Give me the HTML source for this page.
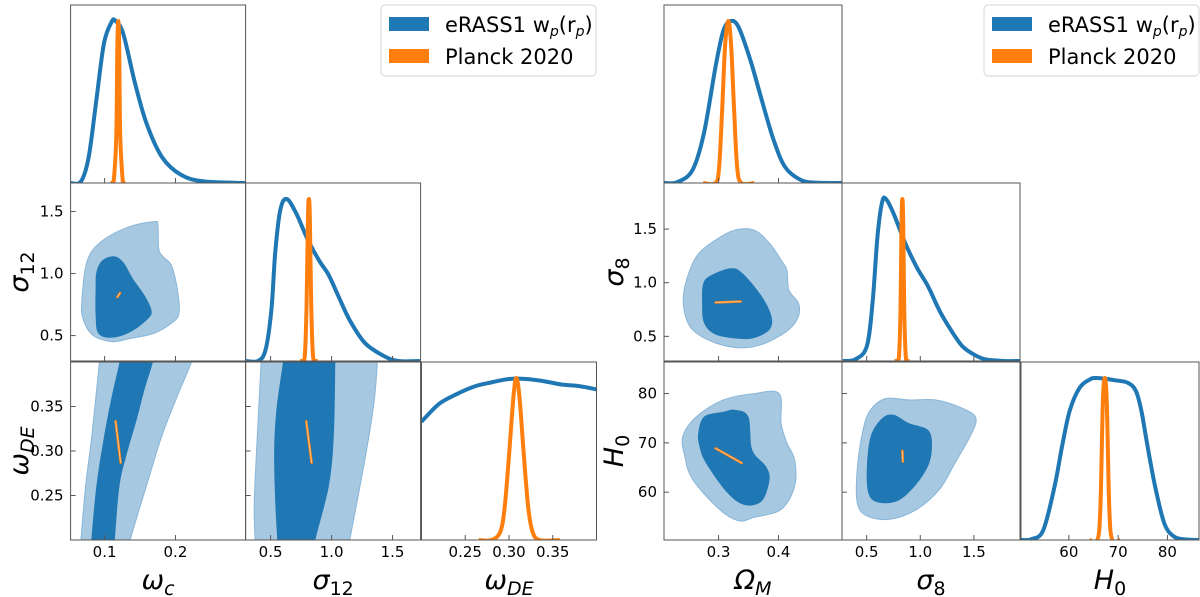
<!DOCTYPE html>
<html><head><meta charset="utf-8">
<style>
html,body{margin:0;padding:0;background:#fff;}
svg{display:block;font-family:"DejaVu Sans","Liberation Sans",sans-serif;}
</style></head>
<body>
<svg id="fig" width="1200" height="597" viewBox="0 0 1200 597" xmlns="http://www.w3.org/2000/svg"></svg>
<script>
// ---------- DATA ----------
const wcRange = [0.052, 0.299];
const s12Range = [0.295, 1.73];
const wdeRange = [0.2, 0.4];
const wcTicks = [0.1, 0.2];
const s12Ticks = [0.5, 1.0, 1.5];
const wdeTicks = [0.25, 0.30, 0.35];

const wcMargX = [0.052,0.0667,0.0775,0.0883,0.099,0.110,0.1155,0.1264,0.1427,0.159,0.181,0.208,0.240,0.299];
const wcMargY = [0,0.01,0.16,0.51,0.86,0.995,1.0,0.92,0.62,0.37,0.16,0.05,0.01,0];
const wcPlanckX = [0.110,0.113,0.1165,0.118,0.1193,0.1206,0.122,0.1255,0.1275];
const wcPlanckY = [0,0.02,0.3,0.85,1,0.85,0.3,0.02,0];

const s12MargX = [0.293,0.397,0.459,0.507,0.538,0.579,0.632,0.711,0.804,0.898,0.977,1.056,1.150,1.275,1.431,1.55,1.724];
const s12MargY = [0,0,0.07,0.32,0.67,0.93,1.0,0.91,0.75,0.62,0.53,0.40,0.25,0.11,0.03,0,0];
const s12PlanckX = [0.752,0.78,0.795,0.806,0.814,0.822,0.833,0.848,0.877];
const s12PlanckY = [0,0.03,0.35,0.88,1,0.88,0.35,0.03,0];

const wdeMargX = [0.2,0.22,0.24,0.26,0.28,0.30,0.32,0.34,0.36,0.38,0.40];
const wdeMargY = [0.73,0.84,0.90,0.947,0.973,0.994,0.994,0.98,0.96,0.95,0.93];
const wdePlanckX = [0.2655,0.28,0.29,0.295,0.30,0.305,0.3083,0.312,0.317,0.322,0.327,0.335,0.358];
const wdePlanckY = [0,0,0.05,0.2,0.52,0.88,1,0.88,0.52,0.2,0.05,0,0];

const wcS12Outer = [[0.0678,0.771],[0.0748,1.091],[0.0938,1.251],[0.1318,1.371],[0.1699,1.419],[0.1753,1.385],[0.1764,1.198],[0.1835,1.131],[0.1943,1.065],[0.2025,0.878],[0.2052,0.691],[0.1970,0.611],[0.1699,0.518],[0.1373,0.478],[0.1101,0.451],[0.0830,0.505],[0.0694,0.638]];
const wcS12Inner = [[0.0884,1.011],[0.0966,1.105],[0.1128,1.139],[0.1264,1.091],[0.1400,0.958],[0.1563,0.825],[0.1661,0.705],[0.1617,0.638],[0.1373,0.531],[0.1101,0.483],[0.0911,0.518],[0.0873,0.665],[0.0873,0.878]];
const wcS12Planck = [[0.1180,0.810],[0.1218,0.843]];

const wcWdeOuter = [[0.0666,0.2003],[0.0732,0.2607],[0.0819,0.3167],[0.0927,0.4],[0.0949,0.4137],[0.2242,0.4137],[0.2226,0.4],[0.2025,0.3615],[0.1807,0.3167],[0.1590,0.2607],[0.1362,0.2003],[0.1346,0.186],[0.065,0.186]];
const wcWdeInner = [[0.0813,0.2003],[0.0884,0.2607],[0.0993,0.3167],[0.1101,0.3615],[0.1210,0.4],[0.122,0.4137],[0.1699,0.4137],[0.1682,0.4],[0.1563,0.369],[0.1454,0.3354],[0.1318,0.2981],[0.1210,0.2607],[0.1145,0.2003],[0.114,0.186],[0.0808,0.186]];
const wcWdePlanck = [[0.1155,0.3335],[0.1226,0.2869]];

const s12WdeOuter = [[0.3722,0.2003],[0.3659,0.2421],[0.3910,0.3167],[0.4224,0.4],[0.425,0.415],[1.38,0.415],[1.3756,0.4],[1.3536,0.3615],[1.3066,0.3167],[1.2282,0.2570],[1.1498,0.2003],[1.14,0.185],[0.372,0.185]];
const s12WdeInner = [[0.5541,0.2003],[0.5384,0.2421],[0.5290,0.2981],[0.5478,0.3465],[0.6011,0.4],[0.605,0.415],[1.032,0.415],[1.0308,0.4],[1.0182,0.3167],[0.9775,0.2607],[0.8677,0.2003],[0.862,0.185],[0.556,0.185]];
const s12WdePlanck = [[0.7923,0.3335],[0.8362,0.2869]];

const omRange = [0.209, 0.506];
const s8Range = [0.27, 1.93];
const h0Range = [50.3, 86.4];
const omTicks = [0.3, 0.4];
const s8Ticks = [0.5, 1.0, 1.5];
const h0Ticks = [60, 70, 80];

const omMargX = [0.209,0.2309,0.2566,0.2758,0.2951,0.3080,0.3208,0.3337,0.3530,0.3723,0.3915,0.4108,0.4365,0.4622,0.506];
const omMargY = [0,0.005,0.08,0.31,0.72,0.94,1.0,0.96,0.76,0.51,0.27,0.10,0.02,0.002,0];
const omPlanckX = [0.2746,0.295,0.301,0.306,0.311,0.3163,0.321,0.326,0.331,0.338,0.3594];
const omPlanckY = [0,0,0.1,0.45,0.85,1,0.85,0.45,0.1,0,0];

const s8MargX = [0.28,0.394,0.501,0.555,0.601,0.644,0.680,0.751,0.858,0.966,1.073,1.180,1.287,1.394,1.501,1.608,1.787,1.93];
const s8MargY = [0,0.01,0.09,0.36,0.77,0.98,1.0,0.91,0.73,0.58,0.46,0.31,0.19,0.09,0.04,0.01,0,0];
const s8PlanckX = [0.77,0.80,0.815,0.825,0.833,0.841,0.851,0.866,0.89];
const s8PlanckY = [0,0.02,0.3,0.85,1,0.85,0.3,0.02,0];

const h0MargX = [50.3,52.4,54.8,57.1,58.7,60.2,62.2,64.2,65.7,69.6,72.0,73.6,74.7,75.9,77.5,79.4,81.4,83.8,86.4];
const h0MargY = [0,0.005,0.06,0.33,0.59,0.80,0.94,0.99,1.0,0.985,0.97,0.92,0.80,0.59,0.33,0.10,0.02,0.003,0];
const h0PlanckX = [64.2,65.8,66.4,66.9,67.3,67.7,68.2,68.8,70.4];
const h0PlanckY = [0,0,0.2,0.85,1,0.85,0.2,0,0];

const omS8Outer = [[0.2437,0.964],[0.2630,1.243],[0.2951,1.398],[0.3273,1.491],[0.3594,1.491],[0.3851,1.367],[0.4044,1.212],[0.4140,1.119],[0.4172,0.934],[0.4333,0.810],[0.4333,0.686],[0.4172,0.562],[0.3787,0.438],[0.3401,0.392],[0.2951,0.438],[0.2566,0.562],[0.2424,0.748]];
const omS8Inner = [[0.2746,0.995],[0.2887,1.073],[0.3208,1.135],[0.3401,1.088],[0.3723,0.872],[0.3883,0.686],[0.3851,0.562],[0.3594,0.485],[0.3337,0.478],[0.2951,0.516],[0.2758,0.624],[0.2726,0.810]];
const omS8Planck = [[0.2951,0.816],[0.3369,0.825]];

const omH0Outer = [[0.2405,71.3],[0.2630,75.3],[0.3080,78.7],[0.3594,80.0],[0.4012,80.0],[0.4044,74.0],[0.4140,70.0],[0.4269,66.6],[0.4269,61.2],[0.4044,56.5],[0.3594,54.9],[0.3337,54.2],[0.3016,56.5],[0.2566,62.6],[0.2437,67.3]];
const omH0Inner = [[0.2662,72.0],[0.2758,75.3],[0.3080,76.3],[0.3273,76.7],[0.3498,75.3],[0.3562,68.6],[0.3787,65.3],[0.3851,62.6],[0.3723,58.2],[0.3433,57.4],[0.3144,59.9],[0.2790,65.9],[0.2681,69.3]];
const omH0Planck = [[0.2951,68.9],[0.3388,65.9]];

const s8H0Outer = [[0.412,57.9],[0.412,64.6],[0.466,72.6],[0.537,76.7],[0.680,79.0],[0.894,78.7],[1.144,78.7],[1.394,77.0],[1.519,75.0],[1.465,71.3],[1.323,65.9],[1.180,60.6],[0.966,56.5],[0.716,54.5],[0.501,55.2]];
const s8H0Inner = [[0.501,64.6],[0.537,71.3],[0.644,75.0],[0.751,75.7],[0.894,74.0],[1.073,72.6],[1.109,69.3],[1.073,65.3],[0.948,61.2],[0.787,58.2],[0.609,57.9],[0.519,59.6]];
const s8H0Planck = [[0.833,68.4],[0.838,66.2]];

// ---------- DRAWING ----------
const NS = "http://www.w3.org/2000/svg";
const svg = document.getElementById('fig');
const BLUE = "#1f77b4", LIGHT = "#a6c8e1", ORANGE = "#ff7f0e";
let clipN = 0;
function el(tag, attrs, parent) {
  const e = document.createElementNS(NS, tag);
  for (const k in attrs) e.setAttribute(k, attrs[k]);
  (parent || svg).appendChild(e);
  return e;
}
function scale(r, a, b) { return v => a + (v - r[0]) / (r[1] - r[0]) * (b - a); }
function smoothPath(pts, closed) {
  const n = pts.length;
  if (n < 3) return "M" + pts.map(p => p[0].toFixed(2) + "," + p[1].toFixed(2)).join("L");
  let d = "M" + pts[0][0].toFixed(2) + "," + pts[0][1].toFixed(2);
  const get = i => closed ? pts[(i + n) % n] : pts[Math.max(0, Math.min(n - 1, i))];
  const segs = closed ? n : n - 1;
  for (let i = 0; i < segs; i++) {
    const p0 = get(i - 1), p1 = get(i), p2 = get(i + 1), p3 = get(i + 2);
    const c1 = [p1[0] + (p2[0] - p0[0]) / 6, p1[1] + (p2[1] - p0[1]) / 6];
    const c2 = [p2[0] - (p3[0] - p1[0]) / 6, p2[1] - (p3[1] - p1[1]) / 6];
    d += "C" + c1[0].toFixed(2) + "," + c1[1].toFixed(2) + " " + c2[0].toFixed(2) + "," + c2[1].toFixed(2) + " " + p2[0].toFixed(2) + "," + p2[1].toFixed(2);
  }
  return d + (closed ? "Z" : "");
}
function panel(name, x0, y0, w, h) {
  const g = el('g', {});
  
  
  const id = "clip" + (clipN++);
  const cp = el('clipPath', { id: id }, g);
  el('rect', { x: x0, y: y0, width: w, height: h }, cp);
  const inner = el('g', { 'clip-path': 'url(#' + id + ')' }, g);
  return { g, inner, x0, y0, w, h };
}
function frame(p, xTicks, xs, yTicks, ys) {
  const f = el('rect', { x: p.x0, y: p.y0, width: p.w, height: p.h, fill: 'none', stroke: '#555', 'stroke-width': 1 }, p.g);
  
  
  if (xTicks) xTicks.forEach(t => { const x = xs(t); el('line', { x1: x, x2: x, y1: p.y0 + p.h, y2: p.y0 + p.h - 5, stroke: '#555', 'stroke-width': 1 }, p.g); });
  if (yTicks) yTicks.forEach(t => { const y = ys(t); el('line', { x1: p.x0, x2: p.x0 + 5, y1: y, y2: y, stroke: '#555', 'stroke-width': 1 }, p.g); });
}
function marginal(p, range, bx, by, ox, oy) {
  const xs = scale(range, p.x0, p.x0 + p.w);
  const top = p.y0 + 16, bot = p.y0 + p.h;
  const ysc = v => bot - v * (bot - top);
  const bp = bx.map((v, i) => [xs(v), ysc(by[i])]);
  const b = el('path', { d: smoothPath(bp, false), fill: 'none', stroke: BLUE, 'stroke-width': 4, 'stroke-linejoin': 'round' }, p.inner);
  
  
  const op = ox.map((v, i) => [xs(v), ysc(oy[i])]);
  const o = el('path', { d: smoothPath(op, false), fill: 'none', stroke: ORANGE, 'stroke-width': 4, 'stroke-linejoin': 'round' }, p.inner);
  
  
  return xs;
}
function contour(p, xr, yr, outer, inner, planck) {
  const xs = scale(xr, p.x0, p.x0 + p.w), ys = scale(yr, p.y0 + p.h, p.y0);
  const a = el('path', { d: smoothPath(outer.map(q => [xs(q[0]), ys(q[1])]), true), fill: LIGHT, stroke: '#8ab6d8', 'stroke-width': 1 }, p.inner);
  
  
  const b = el('path', { d: smoothPath(inner.map(q => [xs(q[0]), ys(q[1])]), true), fill: BLUE }, p.inner);
  
  
  const pp = planck.map(q => [xs(q[0]), ys(q[1])]);
  const c = el('line', { x1: pp[0][0], y1: pp[0][1], x2: pp[1][0], y2: pp[1][1], stroke: ORANGE, 'stroke-width': 2.5, 'stroke-linecap': 'round' }, p.inner);
  
  
  el('line', { x1: pp[0][0], y1: pp[0][1], x2: pp[1][0], y2: pp[1][1], stroke: '#fdd0a0', 'stroke-width': 0.8, 'stroke-linecap': 'round' }, p.inner);
  return [xs, ys];
}
function text(str, x, y, attrs, name) {
  const t = el('text', Object.assign({ x: x, y: y, 'font-size': 15, fill: '#000' }, attrs || {}));
  t.textContent = str;
  
  
  return t;
}
function mathLabel(base, sub, x, y, rotate, name, subItalic) {
  const attrs = { 'font-size': 27, 'font-style': 'italic', 'text-anchor': 'middle' };
  if (rotate) attrs.transform = 'rotate(-90 ' + x + ' ' + y + ')';
  const t = text('', x, y, attrs, name);
  const s1 = el('tspan', {}, t); s1.textContent = base;
  const s2 = el('tspan', { 'font-size': 19, dy: 6, 'font-style': subItalic ? 'italic' : 'normal' }, t); s2.textContent = sub;
  return t;
}
function fmt(v, d) { return v.toFixed(d); }

function corner(cols, rowsY, h, cfg) {
  const [c0, c1, c2] = cols; const w = cfg.w;
  const p11 = panel(cfg.names[0] + '-marginal-panel', c0, rowsY[0], w, h);
  const xs1 = marginal(p11, cfg.r[0], cfg.m[0][0], cfg.m[0][1], cfg.m[0][2], cfg.m[0][3]);
  frame(p11, cfg.t[0], xs1, null, null);
  const p21 = panel(cfg.names[0] + '-' + cfg.names[1] + '-contour-panel', c0, rowsY[1], w, h);
  const [xs21, ys21] = contour(p21, cfg.r[0], cfg.r[1], cfg.c[0][0], cfg.c[0][1], cfg.c[0][2]);
  frame(p21, cfg.t[0], xs21, cfg.t[1], ys21);
  const p22 = panel(cfg.names[1] + '-marginal-panel', c1, rowsY[1], w, h);
  const xs22 = marginal(p22, cfg.r[1], cfg.m[1][0], cfg.m[1][1], cfg.m[1][2], cfg.m[1][3]);
  frame(p22, cfg.t[1], xs22, null, null);
  const p31 = panel(cfg.names[0] + '-' + cfg.names[2] + '-contour-panel', c0, rowsY[2], w, h);
  const [xs31, ys31] = contour(p31, cfg.r[0], cfg.r[2], cfg.c[1][0], cfg.c[1][1], cfg.c[1][2]);
  frame(p31, cfg.t[0], xs31, cfg.t[2], ys31);
  const p32 = panel(cfg.names[1] + '-' + cfg.names[2] + '-contour-panel', c1, rowsY[2], w, h);
  const [xs32, ys32] = contour(p32, cfg.r[1], cfg.r[2], cfg.c[2][0], cfg.c[2][1], cfg.c[2][2]);
  frame(p32, cfg.t[1], xs32, cfg.t[2], ys32);
  const p33 = panel(cfg.names[2] + '-marginal-panel', c2, rowsY[2], w, h);
  const xs33 = marginal(p33, cfg.r[2], cfg.m[2][0], cfg.m[2][1], cfg.m[2][2], cfg.m[2][3]);
  frame(p33, cfg.t[2], xs33, null, null);
  const yb = rowsY[2] + h + 17;
  [[cfg.t[0], xs31], [cfg.t[1], xs32], [cfg.t[2], xs33]].forEach((pair, i) => {
    pair[0].forEach(t => {
      text(fmt(t, cfg.d[i]), pair[1](t), yb, { 'text-anchor': 'middle' }, 'x-tick-label');
    });
  });
  cfg.t[1].forEach(t => text(fmt(t, cfg.d[1]), c0 - 7, ys21(t) + 5, { 'text-anchor': 'end' }, 'y-tick-label'));
  cfg.t[2].forEach(t => text(fmt(t, cfg.d[2]), c0 - 7, ys31(t) + 5, { 'text-anchor': 'end' }, 'y-tick-label'));
  const ly = 589;
  cfg.labels.forEach((L, i) => mathLabel(L[0], L[1], cols[i] + w / 2, ly, false, 'x-axis-title-' + cfg.names[i], L[2]));
  mathLabel(cfg.labels[1][0], cfg.labels[1][1], cfg.yl, rowsY[1] + h / 2, true, 'y-axis-title-' + cfg.names[1], cfg.labels[1][2]);
  mathLabel(cfg.labels[2][0], cfg.labels[2][1], cfg.yl, rowsY[2] + h / 2, true, 'y-axis-title-' + cfg.names[2], cfg.labels[2][2]);
  const lg = el('g', {});
  
  
  el('rect', { x: cfg.lx, y: 5, width: 215, height: 71, rx: 4, fill: '#fff', stroke: '#d5d5d5', 'stroke-width': 1 }, lg);
  const e1 = el('rect', { x: cfg.lx + 8, y: 17, width: 40, height: 14, fill: BLUE }, lg);
  
  
  const e2 = el('rect', { x: cfg.lx + 8, y: 49, width: 40, height: 14, fill: ORANGE }, lg);
  
  
  const t1 = el('text', { x: cfg.lx + 64, y: 32, 'font-size': 21, fill: '#000' }, lg);
  
  
  t1.innerHTML = 'eRASS1 w<tspan font-size="14" dy="4" font-style="italic">p</tspan><tspan dy="-4">(r</tspan><tspan font-size="14" dy="4" font-style="italic">p</tspan><tspan dy="-4">)</tspan>';
  const t2 = el('text', { x: cfg.lx + 64, y: 64, 'font-size': 21, fill: '#000' }, lg);
  
  
  t2.textContent = 'Planck 2020';
}

corner([70.6, 245.6, 421.5], [5, 183, 362], 178, {
  w: 175, names: ['omega-c', 'sigma12', 'omega-de'],
  r: [wcRange, s12Range, wdeRange], t: [wcTicks, s12Ticks, wdeTicks], d: [1, 1, 2],
  m: [[wcMargX, wcMargY, wcPlanckX, wcPlanckY], [s12MargX, s12MargY, s12PlanckX, s12PlanckY], [wdeMargX, wdeMargY, wdePlanckX, wdePlanckY]],
  c: [[wcS12Outer, wcS12Inner, wcS12Planck], [wcWdeOuter, wcWdeInner, wcWdePlanck], [s12WdeOuter, s12WdeInner, s12WdePlanck]],
  labels: [['ω', 'c', true], ['σ', '12', false], ['ω', 'DE', true]], yl: 28, lx: 381
});
corner([664, 842, 1021], [5, 183, 362], 178, {
  w: 178, names: ['omega-m', 'sigma8', 'h0'],
  r: [omRange, s8Range, h0Range], t: [omTicks, s8Ticks, h0Ticks], d: [1, 1, 0],
  m: [[omMargX, omMargY, omPlanckX, omPlanckY], [s8MargX, s8MargY, s8PlanckX, s8PlanckY], [h0MargX, h0MargY, h0PlanckX, h0PlanckY]],
  c: [[omS8Outer, omS8Inner, omS8Planck], [omH0Outer, omH0Inner, omH0Planck], [s8H0Outer, s8H0Inner, s8H0Planck]],
  labels: [['Ω', 'M', true], ['σ', '8', false], ['H', '0', false]], yl: 623, lx: 984
});
</script>
</body></html>
